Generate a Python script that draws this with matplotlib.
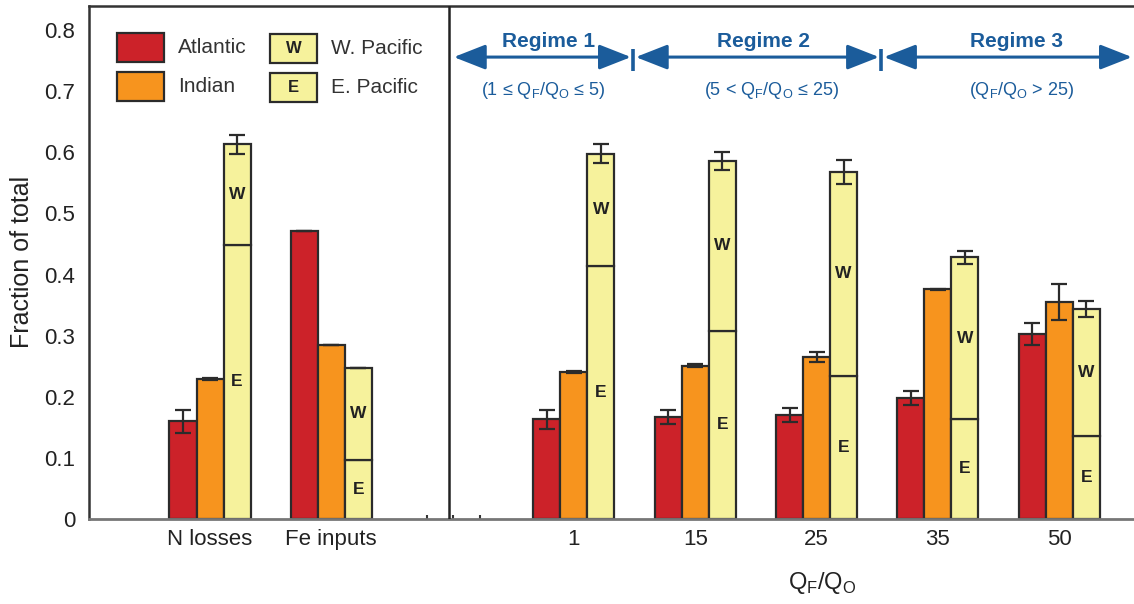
import numpy as np
import matplotlib.pyplot as plt
from matplotlib.patches import Rectangle, FancyArrowPatch

plt.rcParams['font.family'] = ['Liberation Sans', 'DejaVu Sans']
plt.rcParams['mathtext.fontset'] = 'custom'
plt.rcParams['mathtext.rm'] = 'Liberation Sans'

# values
groups = ['N losses', 'Fe inputs', '1', '15', '25', '35', '50']
xpos = np.array([0, 1, 3, 4, 5, 6, 7])

atlantic = np.array([0.160, 0.471, 0.163, 0.167, 0.170, 0.198, 0.302])
atlantic_err = np.array([0.019, 0.0, 0.015, 0.011, 0.012, 0.012, 0.018])
indian = np.array([0.229, 0.284, 0.241, 0.251, 0.265, 0.376, 0.355])
indian_err = np.array([0.001, 0.0, 0.002, 0.002, 0.008, 0.001, 0.030])
pac_east = np.array([0.449, 0.097, 0.414, 0.308, 0.234, 0.164, 0.136])
pac_total = np.array([0.613, 0.247, 0.598, 0.586, 0.568, 0.428, 0.344])
pac_err = np.array([0.016, 0.0, 0.016, 0.014, 0.020, 0.010, 0.013])

regime_names = ['Regime 1', 'Regime 2', 'Regime 3']
regime_ranges = [r'(1 ≤ Q$_\mathregular{F}$/Q$_\mathregular{O}$ ≤ 5)',
                 r'(5 < Q$_\mathregular{F}$/Q$_\mathregular{O}$ ≤ 25)',
                 r'(Q$_\mathregular{F}$/Q$_\mathregular{O}$ > 25)']

red = '#cc2229'
orange = '#f7941e'
yellow = '#f6f29c'
edge = '#2b2b2b'
blue = '#1b5c9b'

fig = plt.figure(figsize=(11.34, 6.04), dpi=100)
ax = fig.add_axes([89/1134, 85/604, 1045/1134, 513/604])

# pixel -> axes fraction helpers (for the hand-placed legend)
def fx(px):
    return (px - 89) / 1045.0

def fy(py):
    return (519 - py) / 513.0

w = 0.2226
lw = 1.6
ax.bar(xpos - w, atlantic, w, color=red, edgecolor=edge, linewidth=lw, zorder=2)
ax.bar(xpos, indian, w, color=orange, edgecolor=edge, linewidth=lw, zorder=2)
ax.bar(xpos + w, pac_east, w, color=yellow, edgecolor=edge, linewidth=lw, zorder=2)
ax.bar(xpos + w, pac_total - pac_east, w, bottom=pac_east, color=yellow,
       edgecolor=edge, linewidth=lw, zorder=2)

for xs, ys, es in [(xpos - w, atlantic, atlantic_err),
                   (xpos, indian, indian_err),
                   (xpos + w, pac_total, pac_err)]:
    ax.errorbar(xs, ys, yerr=es, fmt='none', ecolor=edge, elinewidth=1.6,
                capsize=6, capthick=1.6, zorder=3)

# W / E labels inside the Pacific bars
for i in range(len(xpos)):
    ax.text(xpos[i] + w, pac_east[i] / 2, 'E', ha='center', va='center',
            fontsize=12.5, fontweight='bold', color='#222222', zorder=4)
    ax.text(xpos[i] + w, (pac_east[i] + pac_total[i]) / 2, 'W', ha='center',
            va='center', fontsize=12.5, fontweight='bold', color='#222222', zorder=4)

ax.set_xlim(-0.9975, 7.617)
ax.set_ylim(0, 0.8396)

ax.set_xticks(xpos, groups)
ax.set_yticks(np.arange(0, 0.81, 0.1), ['0', '0.1', '0.2', '0.3', '0.4', '0.5', '0.6', '0.7', '0.8'])
ax.tick_params(axis='both', length=0, labelsize=16, colors='#222222')
ax.tick_params(axis='x', pad=7)
ax.tick_params(axis='y', pad=10)
ax.set_xticks([1.789, 2.003, 2.226], minor=True)
ax.tick_params(axis='x', which='minor', direction='in', length=3, width=1.5, color='#333333')

ax.spines['right'].set_visible(False)
for s in ['left', 'top']:
    ax.spines[s].set_color('#333333')
    ax.spines[s].set_linewidth(1.8)
ax.spines['bottom'].set_color('#777777')
ax.spines['bottom'].set_linewidth(2.0)

# divider between the two panels
ax.axvline(1.97, color='#222222', linewidth=1.8, zorder=5)

fig.text(22/1134, 1 - 262/604, 'Fraction of total', rotation=90, ha='center',
         va='center', fontsize=18, color='#222222')
ax.text(5.05, -0.105, r'Q$_\mathregular{F}$/Q$_\mathregular{O}$', ha='center',
        va='center', fontsize=17, color='#222222', clip_on=False)

# regime arrows
arrow_lims = [(2.01, 3.47), (3.51, 5.515), (5.556, 7.60)]
separators = [3.49, 5.535]
title_x = [2.79, 4.56, 6.645]
range_x = [2.75, 4.63, 6.69]
for (a, b), name, rng, tx, rx in zip(arrow_lims, regime_names, regime_ranges, title_x, range_x):
    arr = FancyArrowPatch((a, 0.756), (b, 0.756),
                          arrowstyle='<|-|>,head_length=1.4,head_width=0.55',
                          mutation_scale=14, linewidth=2.2, color=blue,
                          shrinkA=0, shrinkB=0, clip_on=False)
    ax.add_patch(arr)
    ax.text(tx, 0.782, name, ha='center', va='center', fontsize=15,
            fontweight='bold', color=blue)
    ax.text(rx, 0.702, rng, ha='center', va='center', fontsize=13, color=blue)
for s in separators:
    ax.plot([s, s], [0.734, 0.769], color=blue, linewidth=2.6, solid_capstyle='butt')

# legend
legend_items = [('Atlantic', red, '', 117, 33),
                ('Indian', orange, '', 117, 72),
                ('W. Pacific', yellow, 'W', 270, 34),
                ('E. Pacific', yellow, 'E', 270, 73)]
for label, col, letter, px, py in legend_items:
    ax.add_patch(Rectangle((fx(px), fy(py + 29)), fx(px + 47) - fx(px), fy(py) - fy(py + 29),
                           transform=ax.transAxes, facecolor=col, edgecolor=edge,
                           linewidth=1.6, zorder=4))
    if letter:
        ax.text(fx(px + 23.5), fy(py + 14.5), letter, transform=ax.transAxes,
                ha='center', va='center', fontsize=12, fontweight='bold',
                color='#222222', zorder=6)
    ax.text(fx(px + 61), fy(py + 14.5), label, transform=ax.transAxes,
            ha='left', va='center', fontsize=15, color='#333333', zorder=6)

plt.savefig('out.png', dpi=100)
